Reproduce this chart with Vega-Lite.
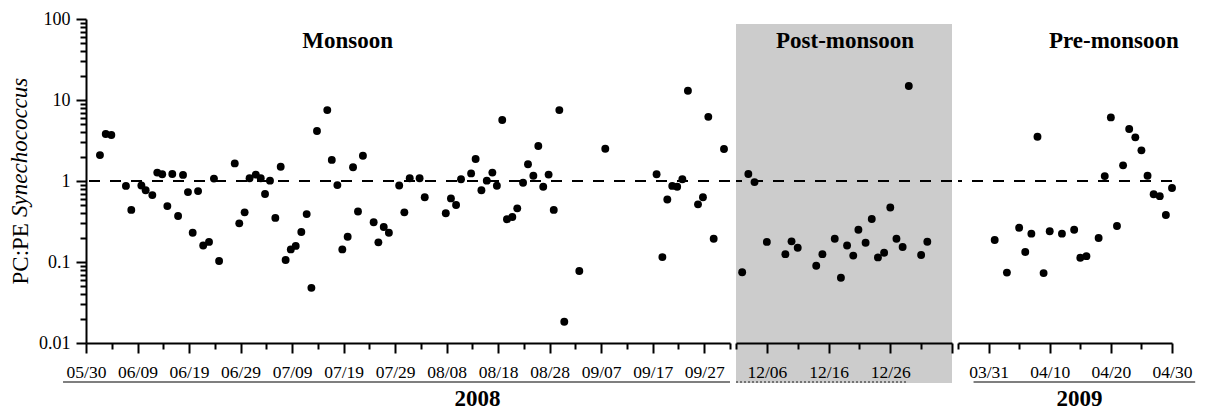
{
  "$schema": "https://vega.github.io/schema/vega-lite/v6.json",
  "background": "white",
  "padding": {"left": 8, "top": 10, "right": 5, "bottom": 2},
  "config": {
    "font": "Liberation Serif",
    "view": {"stroke": null},
    "axis": {"domainColor": "black", "domainWidth": 2, "tickColor": "black", "tickWidth": 2, "labelColor": "black", "labelFont": "Liberation Serif", "labelFontSize": 17.5, "titleColor": "black", "titleFont": "Liberation Serif", "grid": false, "labelOverlap": false, "labelFlush": false, "labelBound": false}
  },
  "datasets": {
    "pts": [
      {"season": "Monsoon", "date": "2008-06-01T17:00", "ratio": 2.09},
      {"season": "Monsoon", "date": "2008-06-02T20:00", "ratio": 3.8},
      {"season": "Monsoon", "date": "2008-06-03T22:00", "ratio": 3.7},
      {"season": "Monsoon", "date": "2008-06-06T18:00", "ratio": 0.87},
      {"season": "Monsoon", "date": "2008-06-07T19:00", "ratio": 0.44},
      {"season": "Monsoon", "date": "2008-06-09T18:00", "ratio": 0.88},
      {"season": "Monsoon", "date": "2008-06-10T14:00", "ratio": 0.77},
      {"season": "Monsoon", "date": "2008-06-11T21:00", "ratio": 0.67},
      {"season": "Monsoon", "date": "2008-06-12T20:00", "ratio": 1.27},
      {"season": "Monsoon", "date": "2008-06-13T19:00", "ratio": 1.21},
      {"season": "Monsoon", "date": "2008-06-14T19:00", "ratio": 0.49},
      {"season": "Monsoon", "date": "2008-06-15T18:00", "ratio": 1.22},
      {"season": "Monsoon", "date": "2008-06-16T21:00", "ratio": 0.37},
      {"season": "Monsoon", "date": "2008-06-17T20:00", "ratio": 1.19},
      {"season": "Monsoon", "date": "2008-06-18T19:00", "ratio": 0.73},
      {"season": "Monsoon", "date": "2008-06-19T17:00", "ratio": 0.23},
      {"season": "Monsoon", "date": "2008-06-20T18:00", "ratio": 0.75},
      {"season": "Monsoon", "date": "2008-06-21T18:00", "ratio": 0.16},
      {"season": "Monsoon", "date": "2008-06-22T21:00", "ratio": 0.177},
      {"season": "Monsoon", "date": "2008-06-23T20:00", "ratio": 1.07},
      {"season": "Monsoon", "date": "2008-06-24T20:00", "ratio": 0.103},
      {"season": "Monsoon", "date": "2008-06-27T21:00", "ratio": 1.65},
      {"season": "Monsoon", "date": "2008-06-28T18:00", "ratio": 0.3},
      {"season": "Monsoon", "date": "2008-06-29T19:00", "ratio": 0.41},
      {"season": "Monsoon", "date": "2008-06-30T18:00", "ratio": 1.08},
      {"season": "Monsoon", "date": "2008-07-01T23:00", "ratio": 1.2},
      {"season": "Monsoon", "date": "2008-07-02T22:00", "ratio": 1.08},
      {"season": "Monsoon", "date": "2008-07-03T18:00", "ratio": 0.69},
      {"season": "Monsoon", "date": "2008-07-04T17:00", "ratio": 1.01},
      {"season": "Monsoon", "date": "2008-07-05T18:00", "ratio": 0.35},
      {"season": "Monsoon", "date": "2008-07-06T19:00", "ratio": 1.5},
      {"season": "Monsoon", "date": "2008-07-07T18:00", "ratio": 0.106},
      {"season": "Monsoon", "date": "2008-07-08T18:00", "ratio": 0.143},
      {"season": "Monsoon", "date": "2008-07-09T17:00", "ratio": 0.158},
      {"season": "Monsoon", "date": "2008-07-10T19:00", "ratio": 0.235},
      {"season": "Monsoon", "date": "2008-07-11T20:00", "ratio": 0.39},
      {"season": "Monsoon", "date": "2008-07-12T18:00", "ratio": 0.048},
      {"season": "Monsoon", "date": "2008-07-13T20:00", "ratio": 4.14},
      {"season": "Monsoon", "date": "2008-07-15T20:00", "ratio": 7.5},
      {"season": "Monsoon", "date": "2008-07-16T17:00", "ratio": 1.82},
      {"season": "Monsoon", "date": "2008-07-17T19:00", "ratio": 0.89},
      {"season": "Monsoon", "date": "2008-07-18T18:00", "ratio": 0.143},
      {"season": "Monsoon", "date": "2008-07-19T19:00", "ratio": 0.205},
      {"season": "Monsoon", "date": "2008-07-20T20:00", "ratio": 1.48},
      {"season": "Monsoon", "date": "2008-07-21T19:00", "ratio": 0.42},
      {"season": "Monsoon", "date": "2008-07-22T18:00", "ratio": 2.05},
      {"season": "Monsoon", "date": "2008-07-24T20:00", "ratio": 0.31},
      {"season": "Monsoon", "date": "2008-07-25T18:00", "ratio": 0.175},
      {"season": "Monsoon", "date": "2008-07-26T19:00", "ratio": 0.27},
      {"season": "Monsoon", "date": "2008-07-27T19:00", "ratio": 0.23},
      {"season": "Monsoon", "date": "2008-07-29T19:00", "ratio": 0.88},
      {"season": "Monsoon", "date": "2008-07-30T19:00", "ratio": 0.41},
      {"season": "Monsoon", "date": "2008-07-31T20:00", "ratio": 1.08},
      {"season": "Monsoon", "date": "2008-08-02T18:00", "ratio": 1.08},
      {"season": "Monsoon", "date": "2008-08-03T18:00", "ratio": 0.63},
      {"season": "Monsoon", "date": "2008-08-07T20:00", "ratio": 0.4},
      {"season": "Monsoon", "date": "2008-08-08T20:00", "ratio": 0.61},
      {"season": "Monsoon", "date": "2008-08-09T20:00", "ratio": 0.505},
      {"season": "Monsoon", "date": "2008-08-10T19:00", "ratio": 1.05},
      {"season": "Monsoon", "date": "2008-08-12T18:00", "ratio": 1.24},
      {"season": "Monsoon", "date": "2008-08-13T15:00", "ratio": 1.87},
      {"season": "Monsoon", "date": "2008-08-14T18:00", "ratio": 0.77},
      {"season": "Monsoon", "date": "2008-08-15T19:00", "ratio": 1.01},
      {"season": "Monsoon", "date": "2008-08-16T21:00", "ratio": 1.27},
      {"season": "Monsoon", "date": "2008-08-17T18:00", "ratio": 0.875},
      {"season": "Monsoon", "date": "2008-08-18T19:00", "ratio": 5.67},
      {"season": "Monsoon", "date": "2008-08-19T17:00", "ratio": 0.337},
      {"season": "Monsoon", "date": "2008-08-20T18:00", "ratio": 0.36},
      {"season": "Monsoon", "date": "2008-08-21T17:00", "ratio": 0.46},
      {"season": "Monsoon", "date": "2008-08-22T20:00", "ratio": 0.95},
      {"season": "Monsoon", "date": "2008-08-23T19:00", "ratio": 1.61},
      {"season": "Monsoon", "date": "2008-08-24T20:00", "ratio": 1.16},
      {"season": "Monsoon", "date": "2008-08-25T19:00", "ratio": 2.7},
      {"season": "Monsoon", "date": "2008-08-26T18:00", "ratio": 0.85},
      {"season": "Monsoon", "date": "2008-08-27T19:00", "ratio": 1.2},
      {"season": "Monsoon", "date": "2008-08-28T19:00", "ratio": 0.44},
      {"season": "Monsoon", "date": "2008-08-29T21:00", "ratio": 7.5},
      {"season": "Monsoon", "date": "2008-08-30T20:00", "ratio": 0.0183},
      {"season": "Monsoon", "date": "2008-09-02T18:00", "ratio": 0.0775},
      {"season": "Monsoon", "date": "2008-09-07T19:00", "ratio": 2.5},
      {"season": "Monsoon", "date": "2008-09-17T18:00", "ratio": 1.21},
      {"season": "Monsoon", "date": "2008-09-18T21:00", "ratio": 0.115},
      {"season": "Monsoon", "date": "2008-09-19T20:00", "ratio": 0.59},
      {"season": "Monsoon", "date": "2008-09-20T19:00", "ratio": 0.87},
      {"season": "Monsoon", "date": "2008-09-21T18:00", "ratio": 0.85},
      {"season": "Monsoon", "date": "2008-09-22T18:00", "ratio": 1.05},
      {"season": "Monsoon", "date": "2008-09-23T20:00", "ratio": 13.0},
      {"season": "Monsoon", "date": "2008-09-25T19:00", "ratio": 0.515},
      {"season": "Monsoon", "date": "2008-09-26T18:00", "ratio": 0.63},
      {"season": "Monsoon", "date": "2008-09-27T19:00", "ratio": 6.2},
      {"season": "Monsoon", "date": "2008-09-28T20:00", "ratio": 0.194},
      {"season": "Monsoon", "date": "2008-09-30T20:00", "ratio": 2.48},
      {"season": "Post-monsoon", "date": "2008-12-02T00:00", "ratio": 0.0746},
      {"season": "Post-monsoon", "date": "2008-12-03T00:00", "ratio": 1.22},
      {"season": "Post-monsoon", "date": "2008-12-04T00:00", "ratio": 0.97},
      {"season": "Post-monsoon", "date": "2008-12-06T00:00", "ratio": 0.177},
      {"season": "Post-monsoon", "date": "2008-12-09T00:00", "ratio": 0.125},
      {"season": "Post-monsoon", "date": "2008-12-10T00:00", "ratio": 0.18},
      {"season": "Post-monsoon", "date": "2008-12-11T00:00", "ratio": 0.15},
      {"season": "Post-monsoon", "date": "2008-12-14T00:00", "ratio": 0.09},
      {"season": "Post-monsoon", "date": "2008-12-15T00:00", "ratio": 0.125},
      {"season": "Post-monsoon", "date": "2008-12-17T00:00", "ratio": 0.194},
      {"season": "Post-monsoon", "date": "2008-12-18T00:00", "ratio": 0.064},
      {"season": "Post-monsoon", "date": "2008-12-19T00:00", "ratio": 0.16},
      {"season": "Post-monsoon", "date": "2008-12-20T00:00", "ratio": 0.12},
      {"season": "Post-monsoon", "date": "2008-12-20T20:00", "ratio": 0.25},
      {"season": "Post-monsoon", "date": "2008-12-22T00:00", "ratio": 0.173},
      {"season": "Post-monsoon", "date": "2008-12-23T00:00", "ratio": 0.34},
      {"season": "Post-monsoon", "date": "2008-12-24T00:00", "ratio": 0.114},
      {"season": "Post-monsoon", "date": "2008-12-25T00:00", "ratio": 0.13},
      {"season": "Post-monsoon", "date": "2008-12-26T00:00", "ratio": 0.47},
      {"season": "Post-monsoon", "date": "2008-12-27T00:00", "ratio": 0.194},
      {"season": "Post-monsoon", "date": "2008-12-28T00:00", "ratio": 0.153},
      {"season": "Post-monsoon", "date": "2008-12-29T00:00", "ratio": 14.9},
      {"season": "Post-monsoon", "date": "2008-12-31T00:00", "ratio": 0.122},
      {"season": "Post-monsoon", "date": "2009-01-01T00:00", "ratio": 0.178},
      {"season": "Pre-monsoon", "date": "2009-04-01T00:00", "ratio": 0.187},
      {"season": "Pre-monsoon", "date": "2009-04-03T00:00", "ratio": 0.074},
      {"season": "Pre-monsoon", "date": "2009-04-05T00:00", "ratio": 0.265},
      {"season": "Pre-monsoon", "date": "2009-04-06T00:00", "ratio": 0.133},
      {"season": "Pre-monsoon", "date": "2009-04-07T00:00", "ratio": 0.224},
      {"season": "Pre-monsoon", "date": "2009-04-08T00:00", "ratio": 3.52},
      {"season": "Pre-monsoon", "date": "2009-04-09T00:00", "ratio": 0.073},
      {"season": "Pre-monsoon", "date": "2009-04-10T00:00", "ratio": 0.24},
      {"season": "Pre-monsoon", "date": "2009-04-12T00:00", "ratio": 0.224},
      {"season": "Pre-monsoon", "date": "2009-04-14T00:00", "ratio": 0.25},
      {"season": "Pre-monsoon", "date": "2009-04-15T00:00", "ratio": 0.113},
      {"season": "Pre-monsoon", "date": "2009-04-16T00:00", "ratio": 0.118},
      {"season": "Pre-monsoon", "date": "2009-04-18T00:00", "ratio": 0.198},
      {"season": "Pre-monsoon", "date": "2009-04-19T00:00", "ratio": 1.15},
      {"season": "Pre-monsoon", "date": "2009-04-20T00:00", "ratio": 6.1},
      {"season": "Pre-monsoon", "date": "2009-04-21T00:00", "ratio": 0.278},
      {"season": "Pre-monsoon", "date": "2009-04-22T00:00", "ratio": 1.56},
      {"season": "Pre-monsoon", "date": "2009-04-23T00:00", "ratio": 4.38},
      {"season": "Pre-monsoon", "date": "2009-04-24T00:00", "ratio": 3.46},
      {"season": "Pre-monsoon", "date": "2009-04-25T00:00", "ratio": 2.39},
      {"season": "Pre-monsoon", "date": "2009-04-26T00:00", "ratio": 1.16},
      {"season": "Pre-monsoon", "date": "2009-04-27T00:00", "ratio": 0.685},
      {"season": "Pre-monsoon", "date": "2009-04-28T00:00", "ratio": 0.65},
      {"season": "Pre-monsoon", "date": "2009-04-29T00:00", "ratio": 0.38},
      {"season": "Pre-monsoon", "date": "2009-04-30T00:00", "ratio": 0.82}
    ]
  },
  "spacing": 6,
  "bounds": "flush",
  "hconcat": [
    {
      "width": 644,
      "height": 324,
      "resolve": {"axis": {"x": "independent", "y": "independent"}},
      "layer": [
        {
          "data": {"values": [{}]},
          "mark": {"type": "rule", "color": "black", "strokeWidth": 2, "strokeDash": [11, 10]},
          "encoding": {"y": {"datum": 1, "type": "quantitative", "axis": null}}
        },
        {
          "data": {"name": "pts"},
          "transform": [{"filter": "datum.season === 'Monsoon'"}],
          "mark": {"type": "circle", "size": 62, "color": "black", "opacity": 1},
          "encoding": {
            "x": {
              "field": "date", "type": "temporal",
              "scale": {"domain": [{"year": 2008, "month": 5, "date": 30}, {"year": 2008, "month": 10, "date": 2}], "nice": false},
              "axis": {
                "values": [{"year":2008,"month":5,"date":30},{"year":2008,"month":6,"date":4},{"year":2008,"month":6,"date":9},{"year":2008,"month":6,"date":14},{"year":2008,"month":6,"date":19},{"year":2008,"month":6,"date":24},{"year":2008,"month":6,"date":29},{"year":2008,"month":7,"date":4},{"year":2008,"month":7,"date":9},{"year":2008,"month":7,"date":14},{"year":2008,"month":7,"date":19},{"year":2008,"month":7,"date":24},{"year":2008,"month":7,"date":29},{"year":2008,"month":8,"date":3},{"year":2008,"month":8,"date":8},{"year":2008,"month":8,"date":13},{"year":2008,"month":8,"date":18},{"year":2008,"month":8,"date":23},{"year":2008,"month":8,"date":28},{"year":2008,"month":9,"date":2},{"year":2008,"month":9,"date":7},{"year":2008,"month":9,"date":12},{"year":2008,"month":9,"date":17},{"year":2008,"month":9,"date":22},{"year":2008,"month":9,"date":27},{"year":2008,"month":10,"date":2}],
                "format": "%m/%d",
                "labelExpr": "round((time(datum.value) - time(datetime(2008,4,30)))/864e5) % 10 === 0 ? datum.label : ''",
                "tickSize": {"condition": {"test": "round((time(datum.value) - time(datetime(2008,4,30)))/864e5) % 10 === 0", "value": 10}, "value": 6},
                "labelPadding": 10,
                "title": "2008", "titleFontSize": 23, "titleFontWeight": "bold", "titleX": 391, "titleY": 62, "titleBaseline": "alphabetic", "titleAlign": "center", "titleAngle": 0
              }
            },
            "y": {
              "field": "ratio", "type": "quantitative",
              "scale": {"type": "log", "domain": [0.01, 100], "nice": false},
              "axis": {
                "values": [0.01,0.02,0.03,0.04,0.05,0.06,0.07,0.08,0.09,0.1,0.2,0.3,0.4,0.5,0.6,0.7,0.8,0.9,1,2,3,4,5,6,7,8,9,10,20,30,40,50,60,70,80,90,100],
                "format": "~g",
                "labelExpr": "abs(log(datum.value)/LN10 - round(log(datum.value)/LN10)) < 0.000001 ? datum.label : ''",
                "tickSize": {"condition": {"test": "abs(log(datum.value)/LN10 - round(log(datum.value)/LN10)) < 0.000001", "value": 10}, "value": 6},
                "labelPadding": 6, "labelFontSize": 18,
                "title": "PC:PE", "titleFontSize": 23, "titleFontWeight": "normal", "titleAngle": 270, "titleAlign": "left", "titleBaseline": "alphabetic", "titleX": -59, "titleY": 265
              }
            }
          }
        },
        {
          "data": {"values": [{}]},
          "mark": {"type": "text", "text": "Monsoon", "fontSize": 23, "fontWeight": "bold", "align": "center", "baseline": "alphabetic", "color": "black"},
          "encoding": {
            "x": {"datum": {"year": 2008, "month": 7, "date": 19, "hours": 19}, "type": "temporal", "axis": null},
            "y": {"datum": 44, "type": "quantitative", "axis": null}
          }
        },
        {
          "data": {"values": [{}]},
          "mark": {"type": "text", "text": "Synechococcus", "fontSize": 23, "fontStyle": "italic", "angle": 270, "align": "left", "baseline": "alphabetic", "color": "black"},
          "encoding": {
            "x": {"datum": {"year": 2008, "month": 5, "date": 18, "hours": 13}, "type": "temporal", "axis": null},
            "y": {"datum": 0.36, "type": "quantitative", "axis": null}
          }
        },
        {
          "data": {"values": [{}]},
          "mark": {"type": "rule", "color": "#555555", "strokeWidth": 1.5},
          "encoding": {
            "x": {"datum": {"year": 2008, "month": 5, "date": 25, "hours": 13}, "type": "temporal", "axis": null},
            "x2": {"datum": {"year": 2008, "month": 10, "date": 2}},
            "y": {"datum": 0.0033, "type": "quantitative", "axis": null}
          }
        }
      ]
    },
    {
      "width": 216,
      "height": 324,
      "resolve": {"axis": {"x": "independent", "y": "independent"}},
      "layer": [
        {
          "data": {"values": [{}]},
          "mark": {"type": "rect", "color": "#cccccc"},
          "encoding": {
            "x": {"datum": {"year": 2008, "month": 12, "date": 1}, "type": "temporal", "axis": null},
            "x2": {"datum": {"year": 2009, "month": 1, "date": 5}},
            "y": {"datum": 86.7, "type": "quantitative", "axis": null},
            "y2": {"datum": 0.0032}
          }
        },
        {
          "data": {"values": [{}]},
          "mark": {"type": "rule", "color": "black", "strokeWidth": 2, "strokeDash": [11, 10]},
          "encoding": {"y": {"datum": 1, "type": "quantitative", "axis": null}}
        },
        {
          "data": {"name": "pts"},
          "transform": [{"filter": "datum.season === 'Post-monsoon'"}],
          "mark": {"type": "circle", "size": 62, "color": "black", "opacity": 1},
          "encoding": {
            "x": {
              "field": "date", "type": "temporal",
              "scale": {"domain": [{"year": 2008, "month": 12, "date": 1}, {"year": 2009, "month": 1, "date": 5}], "nice": false},
              "axis": {
                "values": [{"year":2008,"month":12,"date":1},{"year":2008,"month":12,"date":6},{"year":2008,"month":12,"date":11},{"year":2008,"month":12,"date":16},{"year":2008,"month":12,"date":21},{"year":2008,"month":12,"date":26},{"year":2008,"month":12,"date":31},{"year":2009,"month":1,"date":5}],
                "format": "%m/%d",
                "labelExpr": "round((time(datum.value) - time(datetime(2008,11,1)))/864e5) % 10 === 5 && datum.label !== '01/05' ? datum.label : ''",
                "tickSize": {"condition": {"test": "round((time(datum.value) - time(datetime(2008,11,1)))/864e5) % 10 === 5", "value": 10}, "value": 6},
                "labelPadding": 10,
                "title": null,
                "zindex": 1
              }
            },
            "y": {
              "field": "ratio", "type": "quantitative",
              "scale": {"type": "log", "domain": [0.01, 100], "nice": false},
              "axis": null
            }
          }
        },
        {
          "data": {"values": [{}]},
          "mark": {"type": "text", "text": "Post-monsoon", "fontSize": 23, "fontWeight": "bold", "align": "center", "baseline": "alphabetic", "color": "black"},
          "encoding": {
            "x": {"datum": {"year": 2008, "month": 12, "date": 18, "hours": 16}, "type": "temporal", "axis": null},
            "y": {"datum": 44, "type": "quantitative", "axis": null}
          }
        },
        {
          "data": {"values": [{}]},
          "mark": {"type": "rule", "color": "#555555", "strokeWidth": 1.5, "strokeDash": [2, 2]},
          "encoding": {
            "x": {"datum": {"year": 2008, "month": 12, "date": 1}, "type": "temporal", "axis": null},
            "x2": {"datum": {"year": 2008, "month": 12, "date": 28, "hours": 21}},
            "y": {"datum": 0.0033, "type": "quantitative", "axis": null}
          }
        }
      ]
    },
    {
      "width": 214,
      "height": 324,
      "resolve": {"axis": {"x": "independent", "y": "independent"}},
      "layer": [
        {
          "data": {"values": [{}]},
          "mark": {"type": "rule", "color": "black", "strokeWidth": 2, "strokeDash": [11, 10]},
          "encoding": {"y": {"datum": 1, "type": "quantitative", "axis": null}}
        },
        {
          "data": {"name": "pts"},
          "transform": [{"filter": "datum.season === 'Pre-monsoon'"}],
          "mark": {"type": "circle", "size": 62, "color": "black", "opacity": 1},
          "encoding": {
            "x": {
              "field": "date", "type": "temporal",
              "scale": {"domain": [{"year": 2009, "month": 3, "date": 26}, {"year": 2009, "month": 4, "date": 30}], "nice": false},
              "axis": {
                "values": [{"year":2009,"month":3,"date":26},{"year":2009,"month":3,"date":31},{"year":2009,"month":4,"date":5},{"year":2009,"month":4,"date":10},{"year":2009,"month":4,"date":15},{"year":2009,"month":4,"date":20},{"year":2009,"month":4,"date":25},{"year":2009,"month":4,"date":30}],
                "format": "%m/%d",
                "labelExpr": "round((time(datum.value) - time(datetime(2009,2,26)))/864e5) % 10 === 5 ? datum.label : ''",
                "tickSize": {"condition": {"test": "round((time(datum.value) - time(datetime(2009,2,26)))/864e5) % 10 === 5", "value": 10}, "value": 6},
                "labelPadding": 10,
                "title": "2009", "titleFontSize": 23, "titleFontWeight": "bold", "titleX": 121, "titleY": 62, "titleBaseline": "alphabetic", "titleAlign": "center", "titleAngle": 0
              }
            },
            "y": {
              "field": "ratio", "type": "quantitative",
              "scale": {"type": "log", "domain": [0.01, 100], "nice": false},
              "axis": null
            }
          }
        },
        {
          "data": {"values": [{}]},
          "mark": {"type": "text", "text": "Pre-monsoon", "fontSize": 23, "fontWeight": "bold", "align": "center", "baseline": "alphabetic", "color": "black"},
          "encoding": {
            "x": {"datum": {"year": 2009, "month": 4, "date": 20, "hours": 12}, "type": "temporal", "axis": null},
            "y": {"datum": 44, "type": "quantitative", "axis": null}
          }
        },
        {
          "data": {"values": [{}]},
          "mark": {"type": "rule", "color": "#555555", "strokeWidth": 1.5},
          "encoding": {
            "x": {"datum": {"year": 2009, "month": 3, "date": 28, "hours": 13}, "type": "temporal", "axis": null},
            "x2": {"datum": {"year": 2009, "month": 5, "date": 3, "hours": 19}},
            "y": {"datum": 0.0033, "type": "quantitative", "axis": null}
          }
        }
      ]
    }
  ]
}
